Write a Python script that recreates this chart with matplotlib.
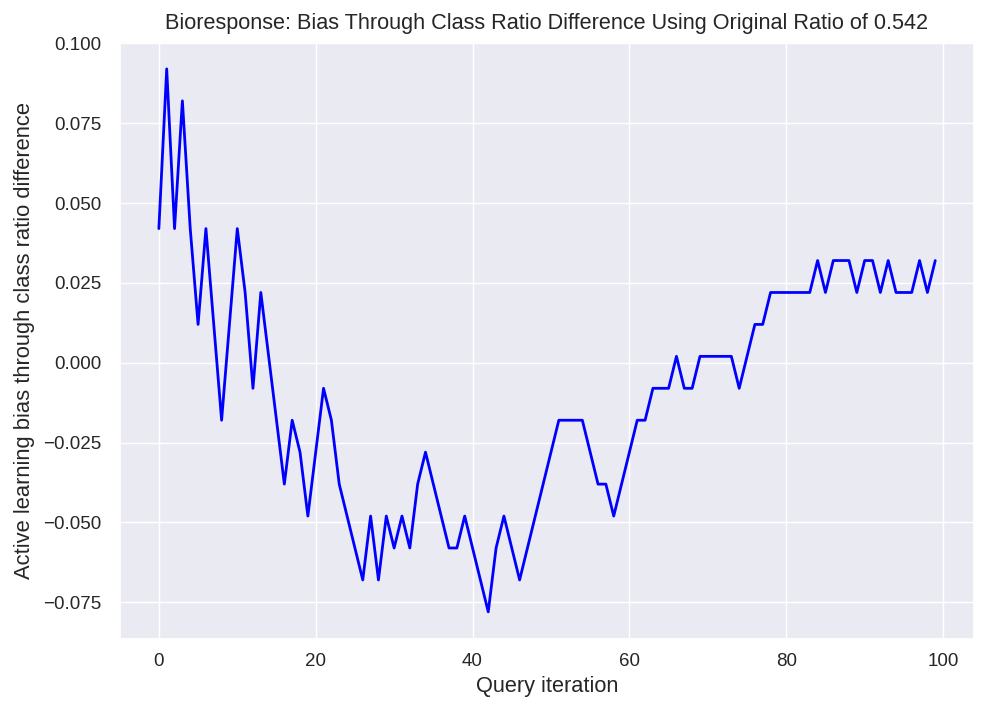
import matplotlib
matplotlib.use("Agg")
import matplotlib.pyplot as plt
import seaborn as sns

sns.set_theme(style="darkgrid")
plt.rcParams['font.family'] = ['Liberation Sans', 'DejaVu Sans']

iterations = list(range(100))
bias = [
    0.042, 0.092, 0.042, 0.082, 0.042, 0.012, 0.042, 0.012, -0.018, 0.012,
    0.042, 0.022, -0.008, 0.022, 0.002, -0.018, -0.038, -0.018, -0.028, -0.048,
    -0.028, -0.008, -0.018, -0.038, -0.048, -0.058, -0.068, -0.048, -0.068, -0.048,
    -0.058, -0.048, -0.058, -0.038, -0.028, -0.038, -0.048, -0.058, -0.058, -0.048,
    -0.058, -0.068, -0.078, -0.058, -0.048, -0.058, -0.068, -0.058, -0.048, -0.038,
    -0.028, -0.018, -0.018, -0.018, -0.018, -0.028, -0.038, -0.038, -0.048, -0.038,
    -0.028, -0.018, -0.018, -0.008, -0.008, -0.008, 0.002, -0.008, -0.008, 0.002,
    0.002, 0.002, 0.002, 0.002, -0.008, 0.002, 0.012, 0.012, 0.022, 0.022,
    0.022, 0.022, 0.022, 0.022, 0.032, 0.022, 0.032, 0.032, 0.032, 0.022,
    0.032, 0.032, 0.022, 0.032, 0.022, 0.022, 0.022, 0.032, 0.022, 0.032,
]
original_ratio = 0.542

fig = plt.figure(figsize=(9.88, 7.16), dpi=100)
ax = fig.add_axes([0.1215, 0.1075, 0.8644, 0.8342])
ax.plot(iterations, bias, color="blue", linewidth=2)
ax.set_title("Bioresponse: Bias Through Class Ratio Difference Using Original Ratio of "
             + str(original_ratio), fontsize=15.6, pad=9)
ax.set_xlabel("Query iteration", fontsize=15.7)
ax.set_ylabel("Active learning bias through class ratio difference", fontsize=15.8, labelpad=5.3)
ax.tick_params(axis="x", labelsize=13.5, pad=4.4)
ax.tick_params(axis="y", labelsize=13.5, pad=7.7)
fig.savefig("out.png", dpi=100)
